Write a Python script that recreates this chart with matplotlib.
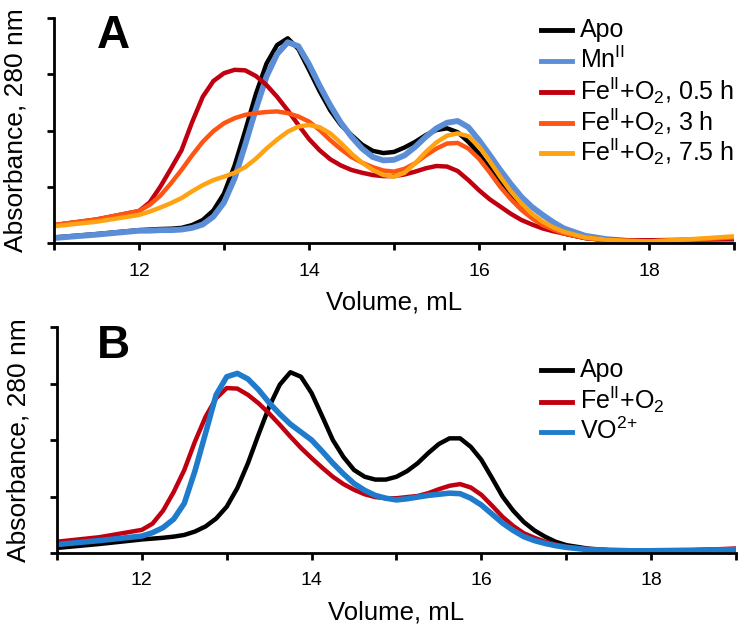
import matplotlib
matplotlib.use("Agg")
import matplotlib.pyplot as plt
from matplotlib.lines import Line2D

plt.rcParams['font.family'] = ['Liberation Sans', 'DejaVu Sans']
plt.rcParams['mathtext.fontset'] = 'custom'
plt.rcParams['mathtext.rm'] = 'Liberation Sans'
plt.rcParams['mathtext.it'] = 'Liberation Sans'

# elution volume (mL), shared by every trace
vol = [11, 11.5, 12, 12.125, 12.25, 12.375, 12.5, 12.625, 12.75, 12.875, 13, 13.125, 13.25,
       13.375, 13.5, 13.625, 13.75, 13.875, 14, 14.125, 14.25, 14.375, 14.5, 14.625, 14.75,
       14.875, 15, 15.125, 15.25, 15.375, 15.5, 15.625, 15.75, 15.875, 16, 16.125, 16.25,
       16.375, 16.5, 16.625, 16.75, 16.875, 17, 17.25, 17.5, 17.75, 18, 18.5, 19]

# panel A traces (arbitrary absorbance units, 0-4 axis)
a_apo = [0.10, 0.16, 0.23, 0.24, 0.25, 0.255, 0.27, 0.32, 0.41, 0.58, 0.88, 1.38, 2.00,
         2.65, 3.19, 3.52, 3.64, 3.45, 3.08, 2.70, 2.36, 2.10, 1.92, 1.75, 1.64,
         1.60, 1.62, 1.70, 1.80, 1.92, 2.01, 2.04, 1.97, 1.80, 1.59, 1.33, 1.06,
         0.84, 0.65, 0.48, 0.35, 0.25, 0.17, 0.09, 0.05, 0.04, 0.03, 0.04, 0.05]
a_mn = [0.09, 0.15, 0.22, 0.22, 0.23, 0.23, 0.24, 0.27, 0.33, 0.47, 0.72, 1.15, 1.75,
        2.38, 2.96, 3.36, 3.57, 3.50, 3.18, 2.80, 2.45, 2.14, 1.89, 1.68, 1.53,
        1.47, 1.48, 1.56, 1.71, 1.89, 2.04, 2.14, 2.17, 2.06, 1.83, 1.57, 1.30,
        1.05, 0.82, 0.64, 0.50, 0.37, 0.26, 0.13, 0.07, 0.04, 0.03, 0.04, 0.05]
a_fe05 = [0.32, 0.42, 0.57, 0.72, 1.00, 1.32, 1.65, 2.15, 2.60, 2.88, 3.02, 3.08, 3.07,
          2.97, 2.81, 2.60, 2.36, 2.10, 1.85, 1.65, 1.49, 1.38, 1.30, 1.25, 1.21,
          1.19, 1.19, 1.22, 1.27, 1.33, 1.37, 1.36, 1.28, 1.12, 0.94, 0.78, 0.65,
          0.52, 0.41, 0.33, 0.26, 0.21, 0.17, 0.09, 0.06, 0.05, 0.05, 0.06, 0.08]
a_fe3 = [0.32, 0.42, 0.57, 0.68, 0.84, 1.06, 1.30, 1.56, 1.80, 1.99, 2.13, 2.22, 2.28,
         2.31, 2.33, 2.34, 2.31, 2.25, 2.16, 2.01, 1.83, 1.67, 1.53, 1.43, 1.35,
         1.29, 1.27, 1.32, 1.42, 1.56, 1.68, 1.77, 1.78, 1.68, 1.50, 1.26, 1.00,
         0.78, 0.59, 0.44, 0.32, 0.24, 0.17, 0.09, 0.05, 0.04, 0.03, 0.06, 0.10]
a_fe75 = [0.30, 0.38, 0.50, 0.56, 0.63, 0.71, 0.80, 0.92, 1.03, 1.12, 1.18, 1.25, 1.35,
          1.50, 1.68, 1.84, 1.98, 2.07, 2.10, 2.06, 1.95, 1.78, 1.59, 1.43, 1.30,
          1.21, 1.18, 1.25, 1.42, 1.62, 1.79, 1.91, 1.95, 1.90, 1.72, 1.46, 1.18,
          0.92, 0.70, 0.52, 0.38, 0.28, 0.20, 0.10, 0.06, 0.04, 0.03, 0.07, 0.12]

# panel B traces
b_apo = [0.09, 0.16, 0.24, 0.255, 0.27, 0.29, 0.32, 0.38, 0.47, 0.61, 0.82, 1.15, 1.59,
         2.10, 2.59, 2.98, 3.20, 3.12, 2.83, 2.42, 2.00, 1.70, 1.47, 1.35, 1.30,
         1.30, 1.35, 1.45, 1.59, 1.77, 1.93, 2.03, 2.03, 1.88, 1.65, 1.33, 1.00,
         0.75, 0.55, 0.40, 0.29, 0.20, 0.14, 0.08, 0.05, 0.04, 0.04, 0.05, 0.07]
b_fe = [0.20, 0.28, 0.41, 0.52, 0.75, 1.08, 1.47, 1.97, 2.41, 2.74, 2.92, 2.91, 2.80,
        2.65, 2.47, 2.27, 2.06, 1.86, 1.68, 1.51, 1.35, 1.22, 1.12, 1.04, 0.99,
        0.97, 0.97, 0.99, 1.01, 1.06, 1.13, 1.19, 1.22, 1.16, 1.03, 0.84, 0.64,
        0.48, 0.35, 0.27, 0.20, 0.15, 0.11, 0.07, 0.05, 0.04, 0.04, 0.05, 0.08]
b_vo = [0.15, 0.22, 0.30, 0.36, 0.45, 0.60, 0.88, 1.45, 2.12, 2.80, 3.12, 3.18, 3.08,
        2.89, 2.66, 2.46, 2.28, 2.14, 2.00, 1.80, 1.59, 1.40, 1.23, 1.11, 1.02,
        0.97, 0.94, 0.96, 0.99, 1.02, 1.04, 1.06, 1.05, 0.97, 0.85, 0.69, 0.53,
        0.40, 0.29, 0.22, 0.17, 0.13, 0.10, 0.06, 0.05, 0.04, 0.04, 0.05, 0.06]

fe = r'Fe$^{\mathrm{II}}$+O$_{2}$'
series_a = [(a_apo, 'Apo', 'black', 3.2),
            (a_mn, r'Mn$^{\mathrm{II}}$', '#5B8ED6', 4.2),
            (a_fe05, fe + ', 0.5 h', '#C00010', 3.2),
            (a_fe3, fe + ', 3 h', '#FF5512', 3.2),
            (a_fe75, fe + ', 7.5 h', '#FFA312', 3.2)]
series_b = [(b_apo, 'Apo', 'black', 3.2),
            (b_fe, fe, '#C00010', 3.2),
            (b_vo, r'VO$^{2{+}}$', '#1F7BCB', 4.0)]

W, H = 748, 638
fig = plt.figure(figsize=(W / 100, H / 100), dpi=100)
ax_a = fig.add_axes([0.0722, 0.619, 0.909, 0.3527])
ax_b = fig.add_axes([0.0762, 0.1332, 0.9077, 0.3542])


def style(ax):
    ax.set_xlim(11, 19)
    ax.set_ylim(0, 4)
    ax.spines['top'].set_visible(False)
    ax.spines['right'].set_visible(False)
    for s in ('left', 'bottom'):
        ax.spines[s].set_linewidth(2)
    ax.set_xticks(range(11, 20))
    ax.set_xticklabels(['' if v % 2 else str(v) for v in range(11, 20)])
    ax.set_yticks(range(0, 5))
    ax.set_yticklabels([])
    ax.tick_params(direction='out', length=5, width=2, labelsize=14, pad=9)
    ax.set_xlabel('Volume, mL', fontsize=18.5, labelpad=8)
    ax.set_ylabel('Absorbance, 280 nm', fontsize=19, labelpad=5)


# legend rows: pixel y of each handle
rows_a = [30, 61, 92, 123, 153]
rows_b = [370, 401.5, 431.5]

for ax, series, rows in [(ax_a, series_a, rows_a), (ax_b, series_b, rows_b)]:
    for (y, lab, col, lw), ry in zip(series, rows):
        ax.plot(vol, y, color=col, lw=lw, solid_joinstyle='round', solid_capstyle='butt')
        fig.add_artist(Line2D([541 / W, 572 / W], [1 - ry / H, 1 - ry / H],
                              color=col, lw=3.5, transform=fig.transFigure))
        fig.text(580 / W, 1 - (ry + 7.5) / H, lab, fontsize=18, va='baseline')
    style(ax)

fig.text(97 / W, 1 - 48 / H, 'A', fontsize=33, fontweight='bold', va='baseline')
fig.text(97 / W, 1 - 358 / H, 'B', fontsize=33, fontweight='bold', va='baseline')

fig.savefig('out.png', dpi=100)
